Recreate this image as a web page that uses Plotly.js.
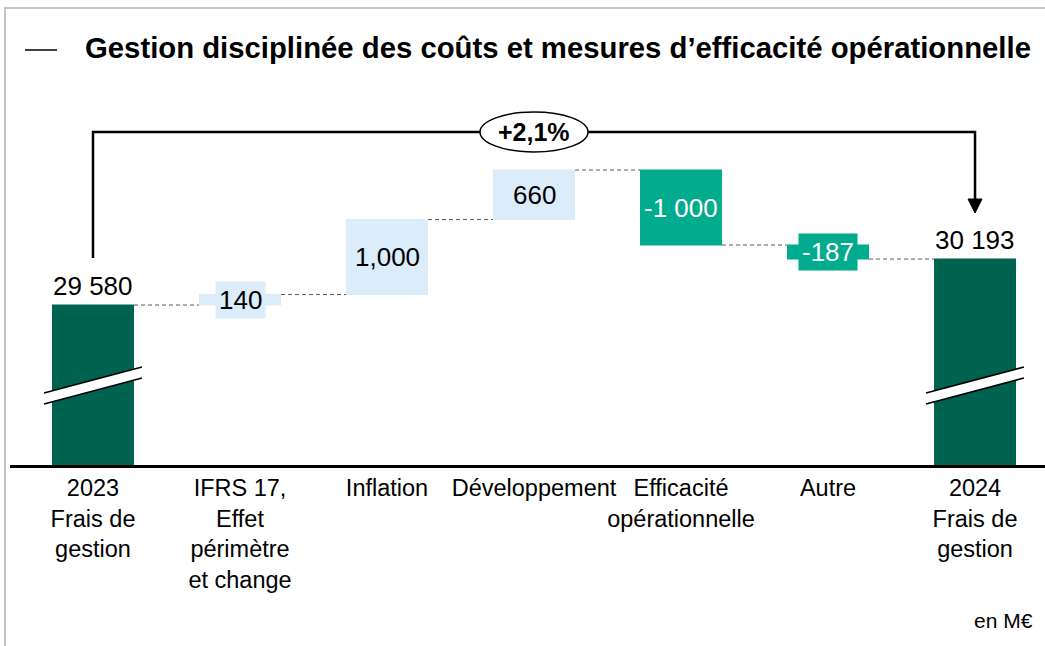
<!DOCTYPE html>
<html>
<head>
<meta charset="utf-8">
<script src="https://cdn.plot.ly/plotly-3.0.1.min.js"></script>
<style>
  body { margin: 0; background: #fff; }
  #frame { position: absolute; left: 4px; top: 7px; width: 1041px; height: 639px;
           border-left: 2px solid #c4c4c4; border-top: 2px solid #c4c4c4; box-sizing: border-box; }
  #charts { position: absolute; left: 0; top: 0; width: 1045px; height: 646px; }
</style>
</head>
<body>
<div id="frame"></div>
<div id="charts"></div>
<script>
var categories = ['2023<br>Frais de<br>gestion', 'IFRS 17,<br>Effet<br>périmètre<br>et change', 'Inflation',
  'Développement', 'Efficacité<br>opérationnelle', 'Autre', '2024<br>Frais de<br>gestion'];
var measures = ['absolute', 'relative', 'relative', 'relative', 'relative', 'relative', 'total'];
var values = [29580, 140, 1000, 660, -1000, -187, 30193];
var valueLabels = ['29 580', '140', '1,000', '660', '-1 000', '-187', '30 193'];
var changeLabel = '+2,1%';

var FONT = 'Liberation Sans, Arial, sans-serif';
var darkGreen = '#00634f', teal = '#00ab8e', lightBlue = '#dbecfb';
var yMin = 27447, yMax = 32314;   // axis is broken, starts well above 0
var pxUnit = (yMax - yMin) / 365; // value units per pixel

var xs = categories.map(function(c, i) { return i; });

var trace = {
  type: 'waterfall',
  x: xs,
  y: values,
  measure: measures,
  width: 0.558,
  textinfo: 'none',
  hoverinfo: 'skip',
  totals: { marker: { color: darkGreen } },
  increasing: { marker: { color: lightBlue } },
  decreasing: { marker: { color: teal } },
  connector: { mode: 'between', line: { color: '#595959', width: 1, dash: '4px,3px' } }
};

// value labels
var annotations = [];
var cum = 0;
for (var i = 0; i < values.length; i++) {
  var start, end;
  if (measures[i] == 'absolute') { start = 0; end = values[i]; cum = values[i]; }
  else if (measures[i] == 'total') { start = 0; end = cum; }
  else { start = cum; end = cum + values[i]; cum = end; }
  if (measures[i] != 'relative') {
    annotations.push({ x: i, y: end, yanchor: 'bottom', yshift: 2, showarrow: false,
      text: valueLabels[i], font: { family: FONT, size: 26, color: '#000' } });
  } else {
    var small = Math.abs(values[i]) < 300;
    var neg = values[i] < 0;
    annotations.push({ x: i, y: (start + end) / 2, yanchor: 'middle', showarrow: false,
      text: valueLabels[i], bgcolor: small ? (neg ? teal : lightBlue) : 'rgba(0,0,0,0)', borderpad: 3,
      font: { family: FONT, size: 26, color: neg ? '#fff' : '#000' } });
  }
}

var last = values.length - 1;
var topY = yMin + (465 - 132) * pxUnit;
var startY = yMin + (465 - 258) * pxUnit;
var tipY = yMin + (465 - 213) * pxUnit;
var headY = yMin + (465 - 199) * pxUnit;
var hw = 7 / 147;

annotations.push({ x: 3, y: topY, showarrow: false, text: '<b>' + changeLabel + '</b>',
  font: { family: FONT, size: 25, color: '#000' } });
annotations.push({ xref: 'paper', yref: 'paper', x: (1035 - 10) / 1035, y: (465 - 620) / 365,
  xanchor: 'right', yanchor: 'middle', showarrow: false, text: 'en M€',
  font: { family: FONT, size: 21, color: '#000' } });

var shapes = [
  // bracket
  { type: 'path', path: 'M 0,' + startY + ' L 0,' + topY + ' L ' + last + ',' + topY + ' L ' + last + ',' + headY,
    line: { color: '#000', width: 2.5 } },
  { type: 'path', path: 'M ' + (last - hw) + ',' + headY + ' L ' + (last + hw) + ',' + headY + ' L ' + last + ',' + tipY + ' Z',
    fillcolor: '#000', line: { color: '#000', width: 1 } },
  { type: 'circle', x0: 3 - 54 / 147, x1: 3 + 54 / 147, y0: topY - 20 * pxUnit, y1: topY + 20 * pxUnit,
    fillcolor: '#fff', line: { color: '#000', width: 1.5 } },
  // title dash
  { type: 'line', xref: 'paper', yref: 'paper', x0: (25 - 10) / 1035, x1: (57 - 10) / 1035,
    y0: (465 - 50) / 365, y1: (465 - 50) / 365, line: { color: '#000', width: 1.5 } }
];

// axis break marks on the two totals
[0, last].forEach(function(c) {
  var ya = yMin + (465 - 393) * pxUnit, yb = yMin + (465 - 367) * pxUnit, d = 11 * pxUnit;
  var x0 = c - 49 / 147, x1 = c + 49 / 147;
  shapes.push({ type: 'path', path: 'M ' + x0 + ',' + ya + ' L ' + x1 + ',' + yb + ' L ' + x1 + ',' + (yb - d) + ' L ' + x0 + ',' + (ya - d) + ' Z',
    fillcolor: '#fff', line: { width: 0 } });
  shapes.push({ type: 'line', x0: x0, y0: ya, x1: x1, y1: yb, line: { color: '#000', width: 1.5 } });
  shapes.push({ type: 'line', x0: x0, y0: ya - d, x1: x1, y1: yb - d, line: { color: '#000', width: 1.5 } });
});

var layout = {
  width: 1045, height: 646,
  margin: { l: 10, r: 0, t: 100, b: 181 },
  paper_bgcolor: 'rgba(0,0,0,0)',
  plot_bgcolor: 'rgba(0,0,0,0)',
  showlegend: false,
  font: { family: FONT, color: '#000' },
  title: { text: '<b>Gestion disciplinée des coûts et mesures d’efficacité opérationnelle</b>',
    font: { family: FONT, size: 29.3, color: '#000' },
    xref: 'container', yref: 'container', x: 85 / 1045, xanchor: 'left', y: 1 - 48 / 646, yanchor: 'middle' },
  xaxis: {
    range: [-0.5646, 6.476], tickvals: xs, ticktext: categories, tickangle: 0,
    showgrid: false, zeroline: false, showline: true, linecolor: '#000', linewidth: 3,
    ticks: '', tickfont: { family: FONT, size: 23.5, color: '#000' }, fixedrange: true
  },
  yaxis: { range: [yMin, yMax], visible: false, showgrid: false, zeroline: false, fixedrange: true },
  annotations: annotations,
  shapes: shapes
};

Plotly.newPlot('charts', [trace], layout, { displayModeBar: false, staticPlot: true });
</script>
</body>
</html>
